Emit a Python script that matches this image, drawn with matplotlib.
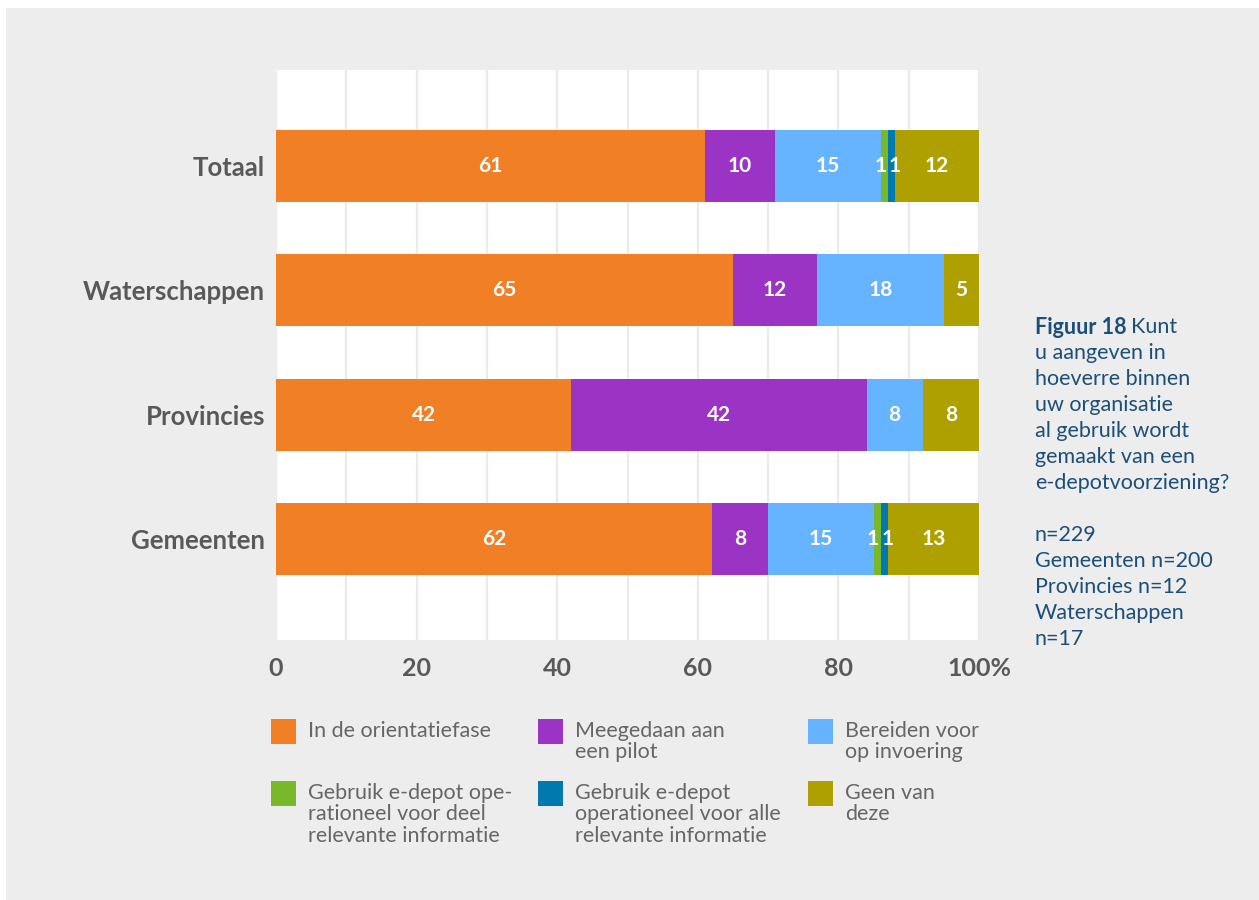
import numpy as np
import matplotlib; matplotlib.use("Agg")
import matplotlib.pyplot as plt
from matplotlib.patches import Rectangle

# data (percentages per group)
groups = ["Totaal", "Waterschappen", "Provincies", "Gemeenten"]
orientatie = [61, 65, 42, 62]
pilot      = [10, 12, 42, 8]
bereiden   = [15, 18, 8, 15]
deel       = [1, 0, 0, 1]
alle       = [1, 0, 0, 1]
geen       = [12, 5, 8, 13]

series = [orientatie, pilot, bereiden, deel, alle, geen]
labels = ["In de orientatiefase", "Meegedaan aan\neen pilot", "Bereiden voor\nop invoering",
          "Gebruik e-depot ope-\nrationeel voor deel\nrelevante informatie",
          "Gebruik e-depot\noperationeel voor alle\nrelevante informatie",
          "Geen van\ndeze"]
colors = ["#F07F26", "#9B33C4", "#66B3FF", "#78B82A", "#0079B0", "#ADA000"]

xticks = [0, 20, 40, 60, 80, 100]
xticklabels = ["0", "20", "40", "60", "80", "100%"]

plt.rcParams["font.family"] = ["Lato", "DejaVu Sans"]
W, H = 1259, 900
fig = plt.figure(figsize=(W / 100, H / 100), dpi=100, facecolor="white")
# grey panel
fig.patches.append(Rectangle((6 / W, 0), 1, 1 - 8 / H, transform=fig.transFigure,
                             facecolor="#EDEDED", edgecolor="none", zorder=-10))

ax = fig.add_axes([276 / W, 1 - 640 / H, (979 - 276) / W, (640 - 70) / H])
ax.set_facecolor("white")
y = np.arange(len(groups))
left = np.zeros(len(groups))
for j, (vals, col) in enumerate(zip(series, colors)):
    vals = np.array(vals, dtype=float)
    ax.barh(y, vals, left=left, height=0.58, color=col, edgecolor="none", zorder=3)
    for yi, (l, v) in enumerate(zip(left, vals)):
        if v <= 0:
            continue
        kw = dict(va="center", color="white", fontsize=15, fontweight="bold", zorder=4)
        if j == 3:    # tiny green slice: label hugs its right edge
            ax.annotate(f"{int(v)}", (l + v, yi), xytext=(-1, 0), textcoords="offset points",
                        ha="right", **kw)
        elif j == 4:  # tiny blue slice: label hugs its left edge
            ax.annotate(f"{int(v)}", (l, yi), xytext=(1, 0), textcoords="offset points",
                        ha="left", **kw)
        else:
            ax.text(l + v / 2, yi, f"{int(v)}", ha="center", **kw)
    left += vals

ax.set_xlim(0, 100)
ax.set_ylim(3.81, -0.77)
ax.set_xticks(xticks)
ax.set_xticklabels(xticklabels)
ax.set_xticks(range(10, 100, 20), minor=True)
ax.set_yticks(y)
ax.set_yticklabels(groups)
ax.grid(axis="x", which="both", color="#EBEBEB", lw=1.6, zorder=0)
for s in ax.spines.values():
    s.set_visible(False)
ax.tick_params(axis="x", which="both", length=0, pad=12, labelsize=18, labelcolor="#595959")
ax.tick_params(axis="y", length=0, pad=8, labelsize=18.5, labelcolor="#595959")
for t in ax.get_xticklabels() + ax.get_yticklabels():
    t.set_fontweight("bold")

# legend, drawn by hand in three columns
col_x = [271, 538, 808]
row_y = [719, 781]
for i, (lab, col) in enumerate(zip(labels, colors)):
    cx, ry = col_x[i % 3], row_y[i // 3]
    fig.patches.append(Rectangle((cx / W, 1 - (ry + 25) / H), 25 / W, 25 / H,
                                 transform=fig.transFigure, facecolor=col, edgecolor="none"))
    fig.text((cx + 37) / W, 1 - (ry + 2) / H, lab, ha="left", va="top", fontsize=15.5,
             color="#666666", linespacing=1.08)

# caption on the right
blue = "#1B4F7A"
t1 = fig.text(1035 / W, 1 - 327 / H, "Figuur 18", ha="left", va="center", fontsize=15.5,
              fontweight="bold", color=blue)
fig.canvas.draw()
bb = t1.get_window_extent()
fig.text(bb.x1 / W + 4 / W, 1 - 327 / H, "Kunt", ha="left", va="center", fontsize=15.5, color=blue)
cap = ["u aangeven in", "hoeverre binnen", "uw organisatie", "al gebruik wordt",
       "gemaakt van een", "e-depotvoorziening?", "", "n=229", "Gemeenten n=200",
       "Provincies n=12", "Waterschappen", "n=17"]
for k, line in enumerate(cap):
    fig.text(1035 / W, 1 - (353 + 26 * k) / H, line, ha="left", va="center",
             fontsize=15.5, color=blue)

fig.savefig("out.png", dpi=100, facecolor=fig.get_facecolor())
